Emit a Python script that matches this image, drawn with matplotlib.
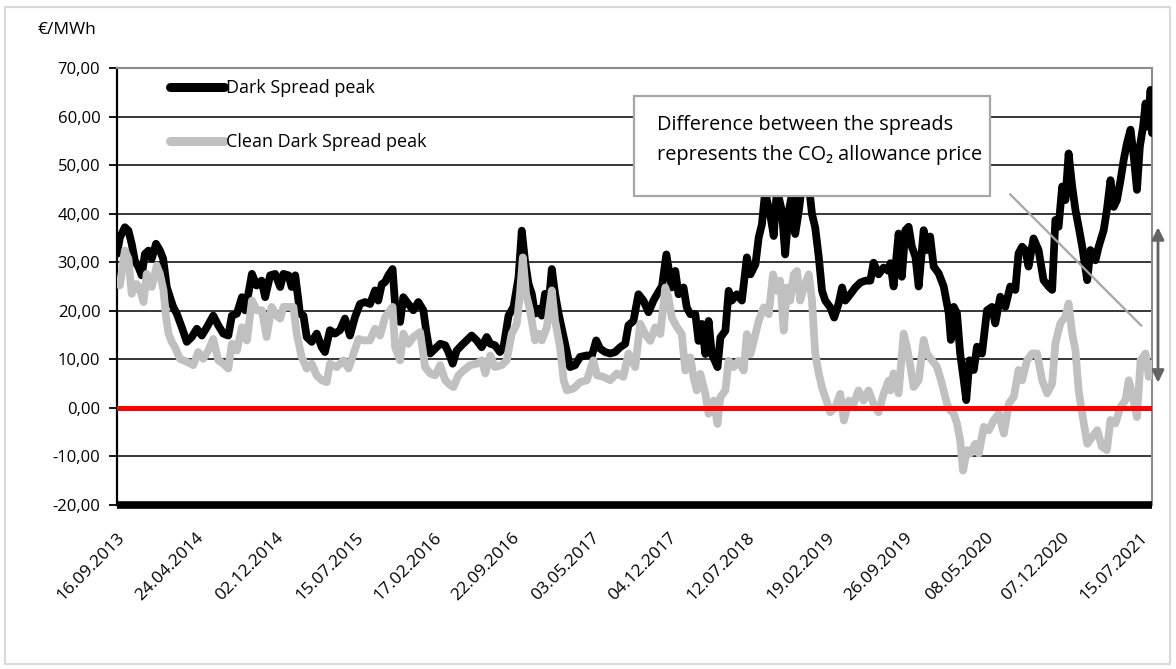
import pandas as pd
import matplotlib
matplotlib.use('Agg')
import matplotlib.pyplot as plt
from matplotlib.patches import Rectangle
from matplotlib.ticker import FuncFormatter

plt.rcParams['font.family'] = ['Open Sans', 'DejaVu Sans']

# days counted from 16.09.2013, values in EUR/MWh
dark_days = [0, 8, 22, 32, 41, 50, 60, 69, 78, 88, 97, 109, 120, 129, 139, 148, 157, 167, 181, 195,
             209, 223, 237, 251, 269, 283, 297, 311, 321, 335, 349, 358, 367, 377, 390, 404, 414, 428, 442, 456,
             465, 479, 488, 498, 507, 511, 521, 530, 544, 558, 572, 581, 595, 609, 623, 637, 651, 665, 679, 693,
             707, 721, 730, 740, 749, 758, 770, 777, 791, 800, 814, 828, 842, 856, 865, 875, 889, 903, 917, 926,
             938, 949, 963, 977, 991, 1005, 1019, 1033, 1043, 1056, 1070, 1080, 1094, 1108, 1122, 1131, 1140, 1150, 1159, 1168,
             1178, 1187, 1196, 1206, 1215, 1224, 1234, 1243, 1252, 1266, 1280, 1294, 1313, 1327, 1339, 1350, 1364, 1378, 1392, 1406,
             1420, 1429,
             1443, 1457, 1471, 1485, 1499, 1509, 1523, 1535, 1544, 1550, 1560, 1569, 1583, 1592, 1602, 1616, 1625, 1634, 1644, 1653,
             1662, 1678, 1686, 1700, 1709, 1718, 1732, 1746, 1760, 1770, 1784, 1793, 1802, 1811, 1825, 1835, 1844, 1858, 1867, 1877,
             1891, 1895, 1905, 1914, 1923, 1933, 1942, 1951, 1961, 1970, 1979, 1993, 2004, 2016, 2026, 2035, 2049, 2063, 2077, 2091,
             2105, 2114, 2128, 2142, 2156,
             2161, 2170, 2184, 2193, 2203, 2212, 2221, 2231, 2240, 2254, 2263, 2272, 2282, 2296, 2310, 2324, 2330, 2338, 2347, 2356,
             2366, 2373, 2382, 2394, 2403, 2417, 2431, 2445, 2454, 2468, 2482, 2496, 2510, 2519, 2529, 2538, 2547, 2561, 2575, 2589,
             2603, 2613, 2622, 2631, 2641, 2650, 2659, 2669, 2678, 2687, 2697, 2711, 2720, 2734, 2743, 2757, 2766, 2776, 2785, 2794,
             2804, 2813, 2822, 2832, 2841, 2850, 2858, 2867, 2874, 2880, 2888, 2892]
dark_peak = [31.7, 35.1, 37.2, 36.5, 33.8, 30.3, 29, 27.3, 31.7, 32.4, 30.7, 33.8, 32.4, 30.7, 24.9, 22.8, 20.8, 19.4, 16.6, 13.6,
             14.6, 16.3, 14.9, 16.6, 19, 17, 15.3, 14.9, 19, 19.4, 22.8, 20.1, 23.5, 27.6, 25.2, 26.2, 22.8, 27.3, 27.6, 24.9,
             27.6, 27.3, 24.9, 27.3, 22.1, 19.4, 19, 14.6, 13.6, 15.3, 12.5, 11.5, 16, 15.3, 16, 18.4, 14.9, 18.7, 21.4, 21.8,
             21.4, 24.2, 22.1, 25.5, 25.9, 27.3, 28.6, 21.4, 17.7, 22.8, 21.4, 20.1, 21.8, 20.1, 15.3, 11.2, 12.2, 13.2, 12.9, 11.5,
             9.1, 11.8, 12.9, 13.9, 14.9, 13.9, 12.5, 14.6, 13.2, 12.9, 11.5, 12.5, 19, 20.8, 26.9, 36.5, 30.3, 25.5, 23.5, 19.4,
             20.4, 19, 23.5, 21.4, 28.6, 23.5, 19.4, 16.3, 13.2, 8.4, 8.8, 10.5, 10.8, 10.8, 13.9, 12.2, 11.5, 11.2, 11.5, 12.5,
             13.2, 17,
             17.9, 23.4, 22.1, 19.7, 22.1, 23.4, 25.1, 31.6, 27.5, 24.8, 28.2, 23.4, 24.8, 20.7, 19.3, 19.3, 13.8, 17.3, 11.1, 17.9,
             11.1, 8.4, 14.5, 15.9, 24.1, 22.1, 23.4, 22.1, 31, 27.5, 29.6, 35.1, 37.8, 44.5, 39.9, 35.4, 45, 40.5, 31.6, 40.5,
             46, 35.8, 40.5, 46, 48, 46, 39.9, 37.1, 31, 24.1, 22.1, 20.7, 18.6, 21.4, 24.8, 22.1, 23.4, 24.8, 25.8, 26.2,
             26.2, 29.9, 27.5, 28.9, 28.2,
             29.8, 25, 35.9, 27, 36.6, 37.3, 33.2, 31.1, 25, 36.6, 32.5, 35.3, 29.1, 27.7, 25, 19.5, 14, 20.8, 19.5, 11.2,
             5.7, 1.6, 9.8, 7.8, 12.6, 11.2, 20.1, 20.8, 17.4, 22.9, 20.8, 25, 24.3, 31.8, 33.2, 32.5, 29.1, 34.9, 32.5, 26.3,
             25, 24.3, 38.7, 37.3, 45.6, 42.8, 52.4, 45.6, 40.8, 37.3, 33.2, 26.3, 32.5, 30.4, 33.2, 36.6, 40.8, 46.9, 41.4, 42.8,
             46.9, 51.1, 54.5, 57.3, 51.8, 44.9, 53.8, 57.9, 62.7, 57.9, 65.5, 56.6]

clean_days = [0, 8, 22, 32, 41, 55, 64, 74, 83, 97, 111, 120, 130, 137, 144, 153, 162, 176, 195, 213,
              227, 241, 255, 269, 283, 297, 311, 321, 335, 349, 363, 377, 391, 405, 418, 432, 446, 456, 465, 493,
              502, 516, 530, 544, 558, 572, 586, 595, 614, 633, 647, 661, 675, 689,
              707, 721, 735, 749, 770, 777, 791, 800, 814, 828, 847, 861, 875, 889, 903, 917, 931, 940, 954, 968,
              987, 1005, 1019, 1029, 1043, 1056, 1075, 1089, 1103, 1117, 1126, 1134, 1143, 1154, 1168, 1178, 1187, 1201, 1215, 1224,
              1238, 1248, 1257, 1276, 1294, 1313, 1331, 1341, 1359, 1378, 1397, 1415, 1429,
              1448, 1462, 1476, 1490, 1504, 1518, 1532, 1541, 1550, 1565, 1578, 1588, 1602, 1611, 1620, 1630, 1644, 1653, 1667, 1678,
              1686, 1700, 1709, 1723, 1737, 1751, 1760, 1770, 1784, 1793, 1807, 1821, 1833, 1844, 1853, 1863, 1872, 1881, 1891, 1900,
              1909, 1919, 1933, 1942, 1951, 1961, 1970, 1979, 1993, 2007, 2021, 2031, 2045, 2058, 2072, 2086, 2100, 2114, 2128, 2142,
              2156,
              2161, 2170, 2184, 2198, 2207, 2217, 2226, 2240, 2254, 2263, 2277, 2291, 2305, 2319, 2328, 2338, 2347, 2356, 2364, 2375,
              2384, 2398, 2408, 2422, 2436, 2450, 2464, 2478, 2492, 2506, 2519, 2529, 2543, 2557, 2571, 2585, 2599, 2613, 2622, 2636,
              2650, 2659, 2669, 2678, 2687, 2697, 2711, 2725, 2739, 2752, 2766, 2776, 2790, 2804, 2818, 2827, 2836, 2850, 2860, 2874,
              2883, 2892]
clean_peak = [26.2, 25.2, 32.4, 30.7, 23.5, 25.5, 24.5, 21.8, 27.6, 24.9, 29.3, 27.6, 24.2, 18.7, 15.3, 13.6, 12.5, 10.1, 9.5, 8.8,
              11.5, 10.1, 11.8, 14.2, 9.8, 9.1, 8.1, 13.2, 11.8, 16.6, 13.9, 22.1, 20.1, 20.1, 14.6, 20.8, 19, 18.4, 20.8, 20.8,
              15.3, 10.5, 8.1, 9.1, 6.7, 5.7, 5.3, 9.1, 8.4, 9.8, 8.1, 11.2, 14.2, 13.9,
              13.9, 16.3, 14.9, 18.7, 20.8, 12.5, 9.8, 15.3, 13.2, 14.6, 15.6, 8.4, 7.1, 6.7, 8.8, 5.7, 4.7, 4.3, 6.7, 7.7,
              8.8, 9.1, 9.8, 7.1, 10.8, 8.4, 8.8, 9.8, 15.3, 17.3, 23.5, 31, 23.5, 20.1, 13.9, 15.3, 13.9, 16.6, 24.2, 18,
              12.5, 5.7, 3.6, 4, 5.3, 5.7, 9.8, 6.7, 6.4, 5.7, 7.1, 6.4, 11.2,
              8.4, 17.3, 15.2, 13.8, 16.6, 15.2, 24.8, 22.7, 18.6, 16.6, 15.2, 7.7, 10.4, 6.3, 3.6, 7, 2.9, -1.2, 1.5, -3.3,
              2.2, 3.6, 9.7, 8.4, 9.7, 7.7, 15.2, 11.1, 15.2, 17.9, 20.7, 19.3, 27.5, 24.1, 26.2, 15.9, 24.8, 22.1, 27.5, 28.2,
              22.1, 24.8, 27.5, 22.1, 11.1, 7, 4.2, 2.2, -0.9, 0.1, 2.9, -2.6, 1.5, 0.8, 3.6, 1.5, 3.6, 0.8, -0.9, 2.9,
              5.6,
              3.6, 7.1, 3, 15.3, 12.6, 8.5, 4.3, 5.7, 14, 11.2, 9.8, 8.5, 5, 0.9, -0.5, -1.2, -3.2, -6.7, -12.9, -8.7,
              -9.4, -7.4, -9.4, -3.9, -4.6, -2.5, -1.2, -5.3, 0.9, 2.3, 7.8, 5.7, 9.8, 11.2, 11.2, 5.7, 3, 5, 13.3, 17.4,
              18.8, 21.5, 15.3, 11.9, 3.6, -1.2, -7.4, -6, -4.6, -8, -8.7, -2.5, -3.2, 0.2, 1.6, 5.7, 3, -1.9, 9.8, 11.2,
              6.4, 9.1]

tick_labels = ['16.09.2013', '24.04.2014', '02.12.2014', '15.07.2015', '17.02.2016', '22.09.2016', '03.05.2017',
               '04.12.2017', '12.07.2018', '19.02.2019', '26.09.2019', '08.05.2020', '07.12.2020', '15.07.2021']
y_ticks = [-20, -10, 0, 10, 20, 30, 40, 50, 60, 70]

start = pd.Timestamp('2013-09-16')
dark_x = start + pd.to_timedelta(dark_days, unit='D')
clean_x = start + pd.to_timedelta(clean_days, unit='D')
tick_dates = pd.to_datetime(tick_labels, format='%d.%m.%Y')

W, H = 1176, 669
fig = plt.figure(figsize=(W / 100, H / 100), dpi=100)
ax = fig.add_axes([117 / W, 1 - 505 / H, (1152 - 117) / W, (505 - 68) / H])

# gridlines (the zero line is drawn red on top)
for v in y_ticks:
    if v in (-20, 0, 70):
        continue
    ax.axhline(v, color='black', lw=1.1, zorder=1)

ax.plot(dark_x, dark_peak, color='black', lw=5.6, solid_capstyle='round',
        solid_joinstyle='round', label='Dark Spread peak', zorder=3)
ax.plot(clean_x, clean_peak, color='#c0c0c0', lw=5.6, solid_capstyle='round',
        solid_joinstyle='round', label='Clean Dark Spread peak', zorder=4)
ax.axhline(0, color='#ff0000', lw=3.6, zorder=5)

ax.set_xlim(start, dark_x[-1])
ax.set_ylim(-20, 70)
ax.set_yticks(y_ticks)
ax.yaxis.set_major_formatter(FuncFormatter(lambda v, p: f'{v:.2f}'.replace('.', ',')))
ax.tick_params(axis='y', direction='out', length=6, width=1.3, labelsize=12, pad=6)
ax.set_xticks(tick_dates)
ax.set_xticklabels(tick_labels, rotation=45, ha='right', va='top', rotation_mode='anchor', fontsize=12.5)
ax.tick_params(axis='x', length=0, pad=18)

ax.spines['left'].set_linewidth(1.6)
ax.spines['bottom'].set_linewidth(5.5)
ax.spines['bottom'].set_capstyle('butt')
for s in ('top', 'right'):
    ax.spines[s].set_color('#8c8c8c')
    ax.spines[s].set_linewidth(1.5)

leg = ax.legend(loc='upper left', bbox_to_anchor=(0.051, 0.975), frameon=False, fontsize=13,
                handlelength=3.0, handletextpad=0.1, labelspacing=2.0, borderpad=0, borderaxespad=0)
for h in leg.legend_handles:
    h.set_linewidth(6.5)
    h.set_solid_capstyle('round')

# annotation box
ax.add_patch(Rectangle((0.4995, 0.707), 0.344, 0.229, transform=ax.transAxes,
                       facecolor='white', edgecolor='#a6a6a6', lw=1.6, zorder=6))
ax.text(0.522, 0.870, 'Difference between the spreads', transform=ax.transAxes,
        fontsize=14.3, va='center', ha='left', zorder=7)
ax.text(0.522, 0.801, 'represents the CO\u2082 allowance price', transform=ax.transAxes,
        fontsize=14.3, va='center', ha='left', zorder=7)
ax.annotate('', xy=(start + pd.Timedelta(days=2868), 16.5), xytext=(start + pd.Timedelta(days=2490), 44.4),
            arrowprops=dict(arrowstyle='-', color='#a6a6a6', lw=1.6), zorder=7)
ax.annotate('', xy=(1.0058, 37.2), xytext=(1.0058, 5.2), xycoords=('axes fraction', 'data'),
            textcoords=('axes fraction', 'data'), annotation_clip=False,
            arrowprops=dict(arrowstyle='<|-|>', color='#636363', lw=2, mutation_scale=18,
                            shrinkA=0, shrinkB=0))

fig.text(37 / W, 1 - 30 / H, '\u20ac/MWh', fontsize=12.5, va='center', ha='left')
fig.patches.append(Rectangle((5 / W, 5 / H), 1165 / W, 657 / H, transform=fig.transFigure,
                             fill=False, edgecolor='#d9d9d9', lw=1.5))

fig.savefig('out.png', dpi=100)
